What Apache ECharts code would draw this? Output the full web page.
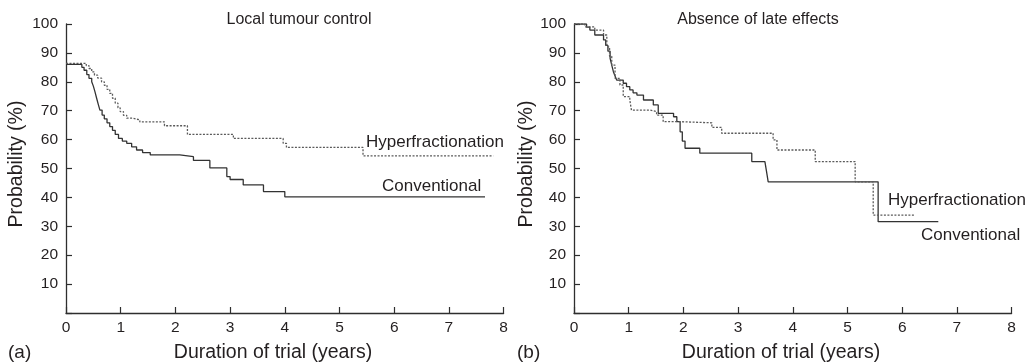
<!DOCTYPE html>
<html>
<head>
<meta charset="utf-8">
<script src="https://cdn.jsdelivr.net/npm/echarts@6/dist/echarts.min.js"></script>
<style>
  html, body { margin: 0; padding: 0; background: #fff; }
  #chart { width: 1027px; height: 363px; }
</style>
</head>
<body>
<div id="chart"></div>
<script>
// Kaplan–Meier estimates: event times (years) and probability (%) after each step.
// (a) Local tumour control
const localConvTime = [0, 0.29, 0.33, 0.38, 0.42, 0.47, 0.50, 0.53, 0.56, 0.59, 0.62, 0.66, 0.70, 0.75, 0.80, 0.85, 0.90, 0.96, 1.03, 1.11, 1.20, 1.29, 1.40, 1.54, 2.08, 2.33, 2.63, 2.94, 3.00, 3.24, 3.61, 4.00, 7.66];
const localConvProb = [86, 85, 84, 82.5, 81.2, 80, 78.5, 76.5, 74.3, 72.2, 70.2, 68.5, 67.2, 65.8, 64.5, 63.2, 61.8, 60.4, 59.5, 58.7, 57.5, 56.4, 55.5, 54.7, 54.1, 52.8, 50.2, 47.2, 46.2, 44.3, 42, 40.2, 40.2];
const localHyperTime = [0, 0.37, 0.42, 0.47, 0.52, 0.58, 0.65, 0.70, 0.75, 0.80, 0.85, 0.90, 0.95, 0.99, 1.05, 1.11, 1.22, 1.35, 1.80, 2.22, 3.06, 3.97, 4.03, 5.43, 7.81];
const localHyperProb = [86.4, 85.6, 84.6, 83.4, 82.3, 81.3, 80, 78.8, 77.4, 76, 74.3, 72.6, 71, 69.7, 68.4, 67.4, 66.8, 66.1, 64.8, 61.8, 60.4, 58.7, 57.3, 54.4, 54.4];

// (b) Absence of late effects
const lateConvTime = [0, 0.23, 0.29, 0.38, 0.54, 0.58, 0.62, 0.66, 0.69, 0.72, 0.75, 0.78, 0.90, 0.96, 1.02, 1.08, 1.15, 1.27, 1.45, 1.54, 1.82, 1.88, 1.94, 1.98, 2.03, 2.30, 3.25, 3.49, 3.52, 3.55, 5.56, 6.66];
const lateConvProb = [100, 98.9, 97.9, 96.2, 94.5, 92.6, 90.6, 88.1, 85.8, 83.5, 82, 80.6, 79.5, 78.3, 77.2, 76.2, 75.4, 73.7, 72, 69.1, 67.9, 66.2, 62.7, 59.5, 57, 55.3, 52.4, 51.8, 48.9, 45.4, 31.6, 31.6];
const lateHyperTime = [0, 0.20, 0.38, 0.54, 0.60, 0.65, 0.69, 0.75, 0.84, 0.90, 1.02, 1.05, 1.39, 1.51, 1.63, 1.94, 2.52, 2.70, 3.64, 3.71, 4.41, 5.14, 5.47, 6.23];
const lateHyperProb = [100, 99, 97.9, 96.2, 92.1, 88.8, 85.8, 81.2, 78.9, 74.9, 73.7, 70.2, 69.7, 68.5, 66.2, 65.8, 64.2, 62.2, 59.9, 56.4, 52.4, 45.4, 33.9, 33.9];

const xTicks = [0, 1, 2, 3, 4, 5, 6, 7, 8];
const yTicks = [10, 20, 30, 40, 50, 60, 70, 80, 90, 100];

const FONT = "'Liberation Sans', Arial, Helvetica, sans-serif";
const INK = '#231f20';
const AXIS = '#2e2e2e';

const pairs = (t, p) => t.map((v, i) => [v, p[i]]);

function xAxisFor(gridIndex) {
  return {
    type: 'value', gridIndex, min: 0, max: 8, interval: 1,
    axisLine: { show: true, lineStyle: { color: AXIS, width: 1.3 } },
    axisTick: { show: true, inside: true, length: 6, lineStyle: { color: AXIS, width: 1.2 } },
    axisLabel: {
      margin: 7, color: INK, fontFamily: FONT, fontSize: 15.5,
      formatter: v => xTicks.includes(v) ? String(v) : ''
    },
    splitLine: { show: false }
  };
}
function yAxisFor(gridIndex) {
  return {
    type: 'value', gridIndex, min: 0, max: 100, interval: 10,
    axisLine: { show: true, lineStyle: { color: AXIS, width: 1.3 } },
    axisTick: { show: true, inside: true, length: 6, lineStyle: { color: AXIS, width: 1.2 } },
    axisLabel: {
      margin: 8, color: INK, fontFamily: FONT, fontSize: 15.5,
      formatter: v => yTicks.includes(v) ? String(v) : ''
    },
    splitLine: { show: false }
  };
}
function curve(name, t, p, axisIndex, dotted) {
  return {
    name, type: 'line', step: 'end', symbol: 'none',
    xAxisIndex: axisIndex, yAxisIndex: axisIndex,
    data: pairs(t, p),
    lineStyle: dotted
      ? { color: '#5a5a5a', width: 1.3, type: [2, 1.5] }
      : { color: '#333333', width: 1.3 },
    animation: false
  };
}
function label(text, x, y, size) {
  return {
    type: 'text', silent: true,
    style: { text, x, y, fill: INK, font: `${size}px ${FONT}`, align: 'left', verticalAlign: 'middle' }
  };
}
function centered(text, x, y, size) {
  const g = label(text, x, y, size);
  g.style.align = 'center';
  return g;
}
function vertical(text, x, y, size) {
  return {
    type: 'text', silent: true, x, y, rotation: Math.PI / 2,
    style: { text, x: 0, y: 0, fill: INK, font: `${size}px ${FONT}`, align: 'center', verticalAlign: 'middle' }
  };
}

const chart = echarts.init(document.getElementById('chart'), null, { renderer: 'canvas' });
chart.setOption({
  backgroundColor: '#ffffff',
  animation: false,
  grid: [
    { left: 66, top: 24, width: 437.6, height: 289 },
    { left: 574, top: 24, width: 437.6, height: 289 }
  ],
  xAxis: [xAxisFor(0), xAxisFor(1)],
  yAxis: [yAxisFor(0), yAxisFor(1)],
  series: [
    curve('Conventional', localConvTime, localConvProb, 0, false),
    curve('Hyperfractionation', localHyperTime, localHyperProb, 0, true),
    curve('Conventional', lateConvTime, lateConvProb, 1, false),
    curve('Hyperfractionation', lateHyperTime, lateHyperProb, 1, true)
  ],
  graphic: [
    centered('Local tumour control', 299, 20, 16),
    centered('Absence of late effects', 758, 20, 16),
    label('Hyperfractionation', 366, 142, 17),
    label('Conventional', 382, 186, 17),
    label('Hyperfractionation', 888, 200, 17),
    label('Conventional', 921, 235, 17),
    centered('Duration of trial (years)', 273, 353, 19.5),
    centered('Duration of trial (years)', 781, 353, 19.5),
    label('(a)', 8, 353, 19),
    label('(b)', 517, 353, 19),
    vertical('Probability (%)', 17, 164, 19.5),
    vertical('Probability (%)', 527, 164, 19.5)
  ]
});
</script>
</body>
</html>
